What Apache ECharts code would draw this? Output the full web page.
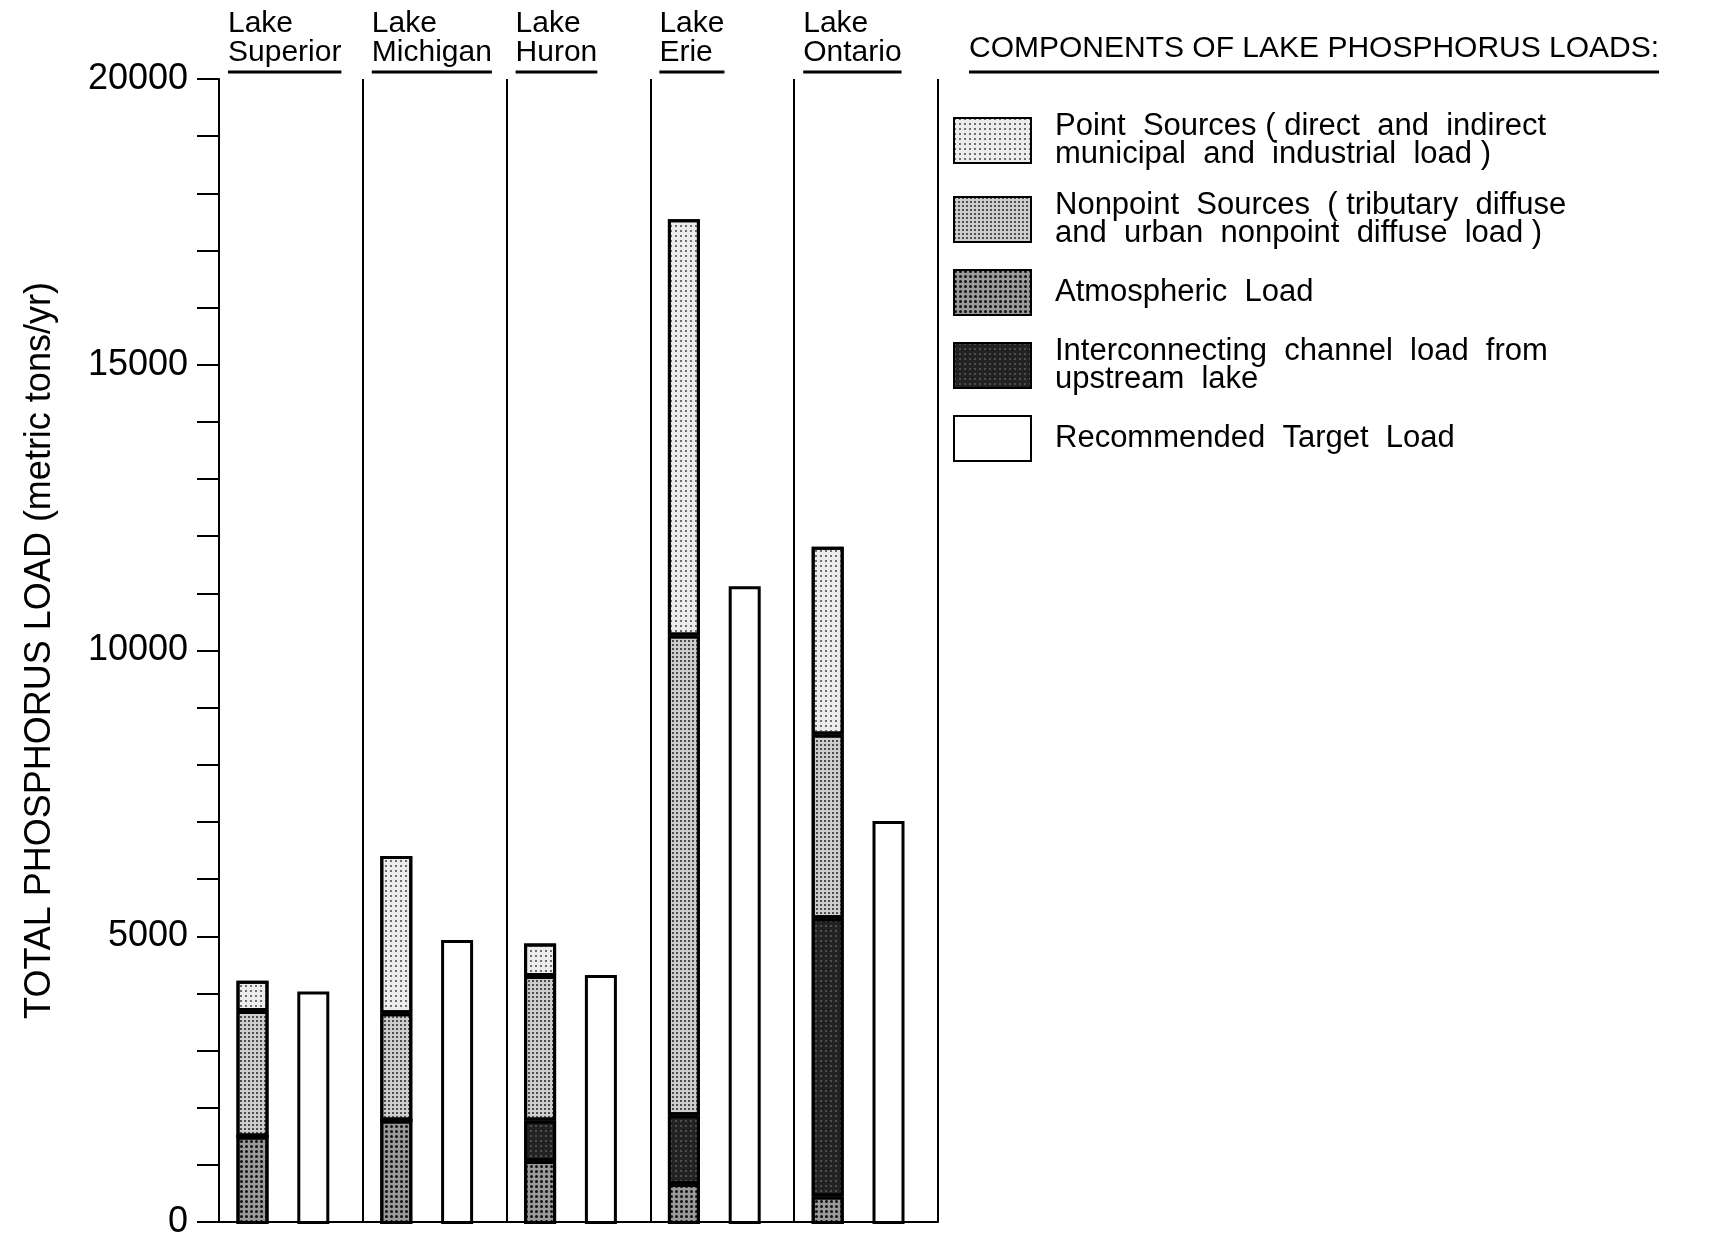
<!DOCTYPE html>
<html>
<head>
<meta charset="utf-8">
<script src="https://cdn.jsdelivr.net/npm/echarts@6/dist/echarts.min.js"></script>
<style>
html,body{margin:0;padding:0;background:#fff;}
#c{width:1714px;height:1240px;}
</style>
</head>
<body>
<div id="c"></div>
<script>
// ---- data ----
const lakeFirst = ['Lake', 'Lake', 'Lake', 'Lake', 'Lake'];
const lakeSecond = ['Superior', 'Michigan', 'Huron', 'Erie', 'Ontario'];
const atmospheric = [1530, 1810, 1100, 700, 480];
const interconnecting = [0, 0, 710, 1200, 4860];
const nonpoint = [2190, 1870, 2520, 8380, 3210];
const pointSources = [530, 2750, 570, 7270, 3280];
const targetLoad = [4060, 4960, 4350, 11140, 7040];
const yTicks = [0, 5000, 10000, 15000, 20000];
const legendNames = ['Point Sources', 'Nonpoint Sources', 'Atmospheric Load', 'Interconnecting channel load', 'Recommended Target Load'];
const legendTexts = [
  'Point  Sources ( direct  and  indirect\nmunicipal  and  industrial  load )',
  'Nonpoint  Sources  ( tributary  diffuse\nand  urban  nonpoint  diffuse  load )',
  'Atmospheric  Load',
  'Interconnecting  channel  load  from\nupstream  lake',
  'Recommended  Target  Load'
];
const titleText = 'COMPONENTS OF LAKE PHOSPHORUS LOADS:';
const yName = 'TOTAL PHOSPHORUS LOAD (metric tons/yr)';

const FONT = '"Liberation Sans", Arial, sans-serif';
const cv = document.createElement('canvas').getContext('2d');
function tw(s, size) { cv.font = size + 'px ' + FONT; return cv.measureText(s).width; }
function longer(a, b, size) { return tw(a, size) >= tw(b, size) ? a : b; }

function dots(color, size, dx, dy) {
  return { symbol: 'circle', symbolSize: size, color: color, dashArrayX: dx, dashArrayY: dy };
}

const border = { borderColor: '#000', borderWidth: 3 };
const chart = echarts.init(document.getElementById('c'), null, { renderer: 'canvas' });

const commonBar = { type: 'bar', stack: 'total', barWidth: 32, barGap: '90%', xAxisIndex: 2, yAxisIndex: 1 };

chart.setOption({
  backgroundColor: '#fff',
  animation: false,
  textStyle: { fontFamily: FONT, color: '#000' },
  title: {
    left: 964, top: 28,
    text: '{t|' + titleText + '}\n{u|' + titleText.replace(':', '') + '}',
    textStyle: {
      rich: {
        t: { fontSize: 30, lineHeight: 32, color: '#000', fontFamily: FONT, fontWeight: 'normal' },
        u: { fontSize: 30, height: 3, lineHeight: 14, color: 'transparent', backgroundColor: '#000', fontFamily: FONT }
      }
    }
  },
  legend: {
    orient: 'vertical', left: 948, top: 106,
    itemWidth: 77, itemHeight: 45, itemGap: 20,
    icon: 'rect',
    data: legendNames,
    formatter: function (n) { return legendTexts[legendNames.indexOf(n)]; },
    textStyle: { fontSize: 31, lineHeight: 28, color: '#000', padding: [0, 0, 0, 19], fontFamily: FONT }
  },
  grid: [
    { left: 219, right: 776, top: 79, bottom: 16, containLabel: false },
    { left: 211, right: 784, top: 79, bottom: 16, containLabel: false }
  ],
  xAxis: [
    {
      type: 'category', data: lakeSecond, position: 'bottom', gridIndex: 0,
      axisLine: { show: true, lineStyle: { color: '#000', width: 2 } },
      axisTick: { show: false }, axisLabel: { show: false },
      splitLine: { show: true, lineStyle: { color: '#000', width: 2 } }
    },
    {
      type: 'value', position: 'top', min: 0, max: 5, interval: 1, gridIndex: 0,
      axisLine: { show: false }, axisTick: { show: false }, splitLine: { show: false },
      axisLabel: {
        show: true, margin: 2, align: 'left', padding: [0, 0, 0, 9],
        showMaxLabel: true, showMinLabel: true,
        formatter: function (v) {
          const i = Math.round(v);
          if (i < 0 || i >= lakeSecond.length) return '';
          return '{a|' + lakeFirst[i] + '}\n{a|' + lakeSecond[i] + '}\n{u|' + longer(lakeFirst[i], lakeSecond[i], 30) + '}';
        },
        rich: {
          a: { fontSize: 30, lineHeight: 29, color: '#000', fontFamily: FONT },
          u: { fontSize: 30, height: 3, lineHeight: 10, color: 'transparent', backgroundColor: '#000', fontFamily: FONT }
        }
      }
    },
    {
      type: 'category', data: lakeSecond, gridIndex: 1, show: false
    }
  ],
  yAxis: [
    {
      type: 'value', min: 0, max: 20000, interval: 1000, gridIndex: 0,
      name: yName, nameLocation: 'middle', nameRotate: 90, nameGap: 161,
      nameTextStyle: { fontSize: 36, color: '#000', fontFamily: FONT },
      axisLine: { show: true, lineStyle: { color: '#000', width: 2 } },
      axisTick: { show: true, length: 22, lineStyle: { color: '#000', width: 2 } },
      axisLabel: {
        margin: 31, fontSize: 36, color: '#000', fontFamily: FONT,
        formatter: function (v) { return yTicks.indexOf(v) >= 0 ? String(v) : ''; }
      },
      splitLine: { show: false }
    },
    {
      type: 'value', min: 0, max: 20000, gridIndex: 1, show: false, splitLine: { show: false }
    }
  ],
  series: [
    Object.assign({}, commonBar, {
      name: legendNames[2], data: atmospheric,
      itemStyle: Object.assign({ color: '#9a9a9a', decal: dots('#111', 1, [3, 2], [3, 2]) }, border)
    }),
    Object.assign({}, commonBar, {
      name: legendNames[3], data: interconnecting,
      itemStyle: Object.assign({ color: '#222', decal: dots('#8a8a8a', 0.8, [2, 3], [2, 3]) }, border)
    }),
    Object.assign({}, commonBar, {
      name: legendNames[1], data: nonpoint,
      itemStyle: Object.assign({ color: '#cdcdcd', decal: dots('#222', 1, [2, 2], [2, 2]) }, border)
    }),
    Object.assign({}, commonBar, {
      name: legendNames[0], data: pointSources,
      itemStyle: Object.assign({ color: '#ececec', decal: dots('#444', 1, [2, 3], [2, 3]) }, border)
    }),
    {
      type: 'bar', name: legendNames[4], data: targetLoad, barWidth: 32, barGap: '90%',
      xAxisIndex: 2, yAxisIndex: 1,
      itemStyle: { color: '#fff', borderColor: '#000', borderWidth: 3 }
    }
  ]
});
</script>
</body>
</html>
